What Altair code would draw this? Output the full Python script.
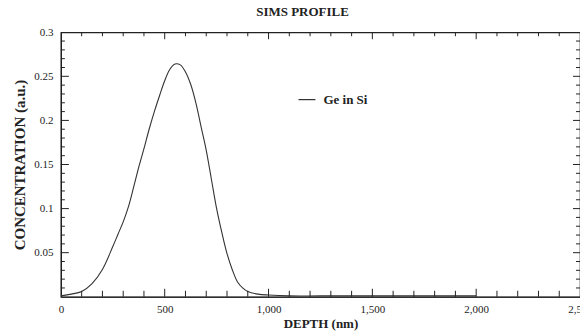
import altair as alt
import pandas as pd

# ---- data ----
depth = [0, 50, 100, 150, 200, 250, 275, 300, 325, 350, 375, 400, 425, 450, 475, 500,
         525, 550, 575, 600, 625, 650, 675, 700, 725, 750, 775, 800, 825, 850,
         875, 900, 950, 1000, 1100, 1250, 1500, 1750, 2000]
conc = [0.001, 0.003, 0.006, 0.015, 0.031, 0.057, 0.071, 0.085, 0.102, 0.124, 0.147,
        0.168, 0.190, 0.210, 0.228, 0.245, 0.258, 0.264, 0.263, 0.255, 0.241, 0.220,
        0.193, 0.166, 0.133, 0.100, 0.073, 0.049, 0.031, 0.017, 0.010, 0.006, 0.003,
        0.002, 0.001, 0.001, 0.001, 0.001, 0.001]
series_name = "Ge in Si"

x_label_values = [0, 500, 1000, 1500, 2000, 2500]
y_label_values = [0.05, 0.1, 0.15, 0.2, 0.25, 0.3]
x_major_ticks = [500, 1000, 1500, 2000]
x_minor_ticks = [v for v in range(100, 2500, 100) if v % 500 != 0]
y_major_ticks = [0.05, 0.10, 0.15, 0.20, 0.25]
y_minor_ticks = [round(i * 0.01, 2) for i in range(1, 30) if i % 5 != 0]

W, H = 520, 265
FONT = "Liberation Serif"
INK = "#222222"

df = pd.DataFrame({"depth": depth, "conc": conc, "series": series_name})
xs = alt.Scale(domain=[0, 2500], nice=False, zero=False)
ys = alt.Scale(domain=[0, 0.3], nice=False, zero=False)

x_axis = alt.Axis(title="DEPTH (nm)", values=x_label_values,
                  labelExpr="format(datum.value, ',')", labelFont=FONT,
                  labelPadding=7, titlePadding=3)
y_axis = alt.Axis(title="CONCENTRATION (a.u.)", values=y_label_values,
                  labelExpr="format(datum.value, '~g')", labelFont=FONT,
                  labelPadding=8, titlePadding=6, titleFontSize=15)

line = alt.Chart(df).mark_line(strokeWidth=1.1, interpolate="catmull-rom").encode(
    x=alt.X("depth:Q", scale=xs, axis=x_axis),
    y=alt.Y("conc:Q", scale=ys, axis=y_axis),
    color=alt.Color("series:N", scale=alt.Scale(range=["#333333"]),
                    legend=alt.Legend(orient="none", legendX=237, legendY=58,
                                      title=None, symbolType="stroke", symbolSize=289,
                                      symbolStrokeWidth=1.2, symbolStrokeColor="#333333",
                                      labelFont=FONT, labelFontSize=13,
                                      labelFontWeight="bold", labelColor=INK,
                                      labelOffset=7, padding=0)),
)


def xticks(vals, y0, y1):
    d = pd.DataFrame({"depth": vals})
    return alt.Chart(d).mark_rule(color=INK, strokeWidth=1).encode(
        x=alt.X("depth:Q", scale=xs, axis=x_axis),
        y=alt.value(y0), y2=alt.value(y1))


def yticks(vals, x0, x1):
    d = pd.DataFrame({"conc": vals})
    return alt.Chart(d).mark_rule(color=INK, strokeWidth=1).encode(
        y=alt.Y("conc:Q", scale=ys, axis=y_axis),
        x=alt.value(x0), x2=alt.value(x1))


chart = alt.layer(
    line,
    xticks(x_minor_ticks, H, H - 6),
    xticks(x_major_ticks, H, H - 8),
    xticks(x_minor_ticks, 0, 4),
    xticks(x_major_ticks, 0, 7),
    yticks(y_minor_ticks, 0, 4),
    yticks(y_major_ticks, 0, 8),
    yticks(y_minor_ticks, W, W - 4),
    yticks(y_major_ticks, W, W - 7),
).properties(
    width=W, height=H,
    title=alt.TitleParams(text="SIMS PROFILE", font=FONT, fontSize=13,
                          fontWeight="bold", color=INK, anchor="middle",
                          dx=-18, offset=7),
    autosize=alt.AutoSizeParams(type="none"),
    padding={"left": 61, "top": 32, "right": 0, "bottom": 36},
).configure(
    view=alt.ViewConfig(stroke=INK, strokeWidth=1.2),
    axis=alt.AxisConfig(
        ticks=False, grid=False, domainColor=INK, domainWidth=1.2,
        labelFont=FONT, labelFontSize=11, labelColor=INK, labelFlush=False,
        titleFont=FONT, titleFontSize=13, titleFontWeight="bold", titleColor=INK,
    ),
    style={"guide-label": {"font": FONT, "fontSize": 11, "fill": INK}},
)

chart.save("out.html", embed_options={"renderer": "svg", "actions": False})
